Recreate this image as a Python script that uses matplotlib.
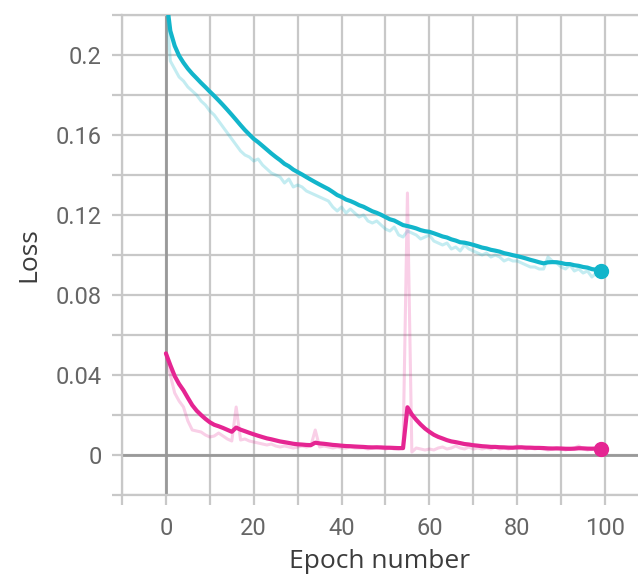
import numpy as np
import matplotlib
matplotlib.use("Agg")
import matplotlib.pyplot as plt
from matplotlib.ticker import MultipleLocator, FixedLocator, FixedFormatter

# ---------------- data ----------------
epochs = list(range(100))

val_loss_raw = [
    0.230, 0.197, 0.193, 0.189, 0.187, 0.184, 0.182, 0.180, 0.177, 0.175,
    0.172, 0.170, 0.167, 0.164, 0.161, 0.158, 0.155, 0.152, 0.150, 0.149,
    0.147, 0.148, 0.145, 0.143, 0.141, 0.140, 0.139, 0.136, 0.138, 0.134,
    0.135, 0.134, 0.132, 0.131, 0.130, 0.129, 0.128, 0.127, 0.124, 0.122,
    0.124, 0.121, 0.123, 0.121, 0.119, 0.120, 0.117, 0.116, 0.117, 0.115,
    0.113, 0.112, 0.114, 0.110, 0.109, 0.112, 0.111, 0.110, 0.108, 0.109,
    0.110, 0.107, 0.106, 0.105, 0.106, 0.103, 0.104, 0.102, 0.105, 0.103,
    0.102, 0.101, 0.100, 0.101, 0.099, 0.100, 0.099, 0.097, 0.098, 0.097,
    0.097, 0.096, 0.095, 0.094, 0.094, 0.093, 0.093, 0.099, 0.097, 0.096,
    0.094, 0.093, 0.095, 0.092, 0.093, 0.091, 0.092, 0.089, 0.091, 0.090,
]

train_loss_raw = [
    0.0508, 0.040, 0.031, 0.027, 0.024, 0.017, 0.0125, 0.012, 0.0115, 0.010,
    0.009, 0.0095, 0.011, 0.0095, 0.008, 0.007, 0.024, 0.0075, 0.008, 0.007,
    0.0065, 0.006, 0.0055, 0.005, 0.0055, 0.0045, 0.004, 0.0045, 0.004, 0.0035,
    0.004, 0.0045, 0.004, 0.0045, 0.0125, 0.004, 0.0045, 0.004, 0.0035, 0.004,
    0.0035, 0.0035, 0.004, 0.0035, 0.0035, 0.0035, 0.003, 0.0035, 0.004, 0.0035,
    0.003, 0.0035, 0.003, 0.003, 0.0035, 0.131, 0.0015, 0.0035, 0.003, 0.0025,
    0.003, 0.0025, 0.0035, 0.004, 0.003, 0.0035, 0.0045, 0.0035, 0.003, 0.004,
    0.003, 0.0035, 0.003, 0.0035, 0.003, 0.004, 0.003, 0.0035, 0.003, 0.0035,
    0.0045, 0.004, 0.003, 0.0035, 0.003, 0.0035, 0.003, 0.0025, 0.003, 0.0035,
    0.003, 0.0025, 0.003, 0.0035, 0.0045, 0.003, 0.0025, 0.003, 0.0035, 0.003,
]

smoothing_weight = 0.84

x_ticks = [0, 20, 40, 60, 80, 100]
x_tick_labels = ["0", "20", "40", "60", "80", "100"]
y_ticks = [0.0, 0.04, 0.08, 0.12, 0.16, 0.2]
y_tick_labels = ["0", "0.04", "0.08", "0.12", "0.16", "0.2"]

CYAN = "#12b5cb"
MAGENTA = "#e52592"


def ema_debiased(values, w):
    out, last = [], 0.0
    for i, v in enumerate(values):
        last = last * w + (1 - w) * v
        out.append(last / (1 - w ** (i + 1)))
    return out


val_smooth = ema_debiased(val_loss_raw, smoothing_weight)
train_smooth = ema_debiased(train_loss_raw, smoothing_weight)

plt.rcParams['font.family'] = ['Roboto', 'DejaVu Sans']

fig = plt.figure(figsize=(6.38, 5.77), dpi=100)
ax = fig.add_axes([122 / 638, 82 / 577, 516 / 638, 480 / 577])

GRID = "#c8c8c8"
ZERO = "#999999"

# raw (faint) lines
ax.plot(epochs, val_loss_raw, color=CYAN, alpha=0.25, lw=2.2, zorder=3)
ax.plot(epochs, train_loss_raw, color=MAGENTA, alpha=0.22, lw=2.2, zorder=3)
# smoothed lines
ax.plot(epochs, val_smooth, color=CYAN, lw=3.0, zorder=4, solid_capstyle='round')
ax.plot(epochs, train_smooth, color=MAGENTA, lw=3.0, zorder=4, solid_capstyle='round')
# end markers
ax.plot([epochs[-1]], [val_smooth[-1]], 'o', color=CYAN, ms=10, zorder=5)
ax.plot([epochs[-1]], [train_smooth[-1]], 'o', color=MAGENTA, ms=10, zorder=5)

ax.set_xlim(-10, 107.5)
ax.set_ylim(-0.02, 0.22)

# zero lines
ax.axvline(0, color=ZERO, lw=2.0, zorder=2)
ax.axhline(0, color=ZERO, lw=2.0, zorder=2)

ax.xaxis.set_major_locator(FixedLocator(x_ticks))
ax.xaxis.set_major_formatter(FixedFormatter(x_tick_labels))
ax.xaxis.set_minor_locator(MultipleLocator(10))
ax.yaxis.set_major_locator(FixedLocator(y_ticks))
ax.yaxis.set_major_formatter(FixedFormatter(y_tick_labels))
ax.yaxis.set_minor_locator(MultipleLocator(0.02))

ax.grid(True, which='both', color=GRID, lw=1.6, zorder=1)
ax.set_axisbelow(True)

ax.spines['right'].set_visible(False)
for side in ['left', 'bottom', 'top']:
    ax.spines[side].set_color(GRID)
    ax.spines[side].set_linewidth(1.6)

ax.tick_params(which='both', length=7.5, width=1.6, color=GRID)
ax.tick_params(axis='x', which='major', pad=8, labelsize=17, labelcolor='#666666')
ax.tick_params(axis='y', which='major', pad=7, labelsize=17, labelcolor='#666666')

label_font = ['Open Sans', 'DejaVu Sans']
ax.set_xlabel("Epoch number", fontsize=19, color='#3c3c3c', family=label_font, labelpad=7)
ax.set_ylabel("Loss", fontsize=19, color='#3c3c3c', family=label_font, labelpad=10)

fig.savefig("out.png", dpi=100)
